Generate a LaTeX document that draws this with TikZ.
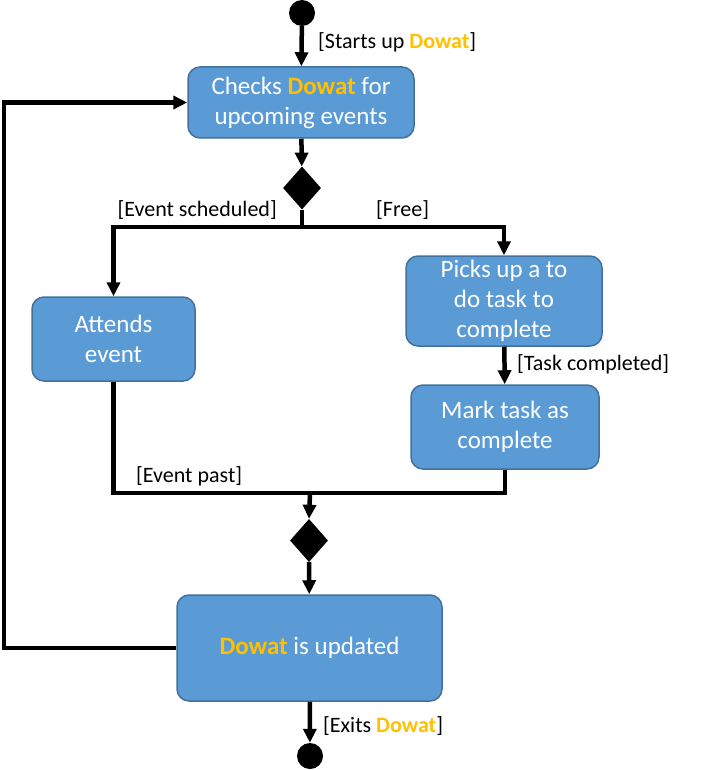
\documentclass[tikz,border=0pt]{standalone}
\usepackage{fontspec}
\setmainfont{Carlito}
\usetikzlibrary{shapes.geometric,arrows.meta}
\definecolor{boxfill}{HTML}{5B9BD5}
\definecolor{boxline}{HTML}{41719C}
\definecolor{dwy}{HTML}{FFC000}
\newcommand{\dw}{\textcolor{dwy}{\textbf{Dowat}}}
\tikzset{
  act/.style={draw=boxline, line width=1.5pt, fill=boxfill, rounded corners=12pt,
    text=white, align=center, font=\fontsize{25}{30}\selectfont, inner sep=0pt},
  dot/.style={circle, fill=black, minimum size=26pt, inner sep=0pt},
  dec/.style={diamond, fill=black, minimum width=38pt, minimum height=43pt, inner sep=0pt},
  ln/.style={line width=4.5pt, black},
  arr/.style={ln, -{Triangle[length=14pt,width=13pt]}},
  lab/.style={font=\fontsize{22}{26}\selectfont, inner sep=0pt}
}
\begin{document}
\begin{tikzpicture}[x=1pt,y=-1pt]
\useasboundingbox (0,0) rectangle (721,770);
\node[dot] (s) at (302,13) {};
\node[act, minimum width=226pt, minimum height=71pt] (a1) at (301,102.5) {Checks \dw{} for\\upcoming events};
\node[dec] (d1) at (302,188) {};
\node[act, minimum width=163pt, minimum height=84pt] (a2) at (113.5,339) {Attends\\event};
\node[act, minimum width=196pt, minimum height=90pt] (a3) at (504,301) {Picks up a to\\do task to\\complete};
\node[act, minimum width=188pt, minimum height=84pt] (a4) at (505,427) {Mark task as\\complete};
\node[dec] (d2) at (309,540.5) {};
\node[act, minimum width=265pt, minimum height=106pt] (a5) at (309.5,648) {\dw{} is updated};
\node[dot] (e) at (310,756) {};
\coordinate (j1) at (302,227);
\coordinate (j2) at (310,493);
\coordinate (l1) at (4,648);
\draw[arr] (s) -- (a1);
\draw[arr] (a1) -- (d1);
\draw[ln] (d1.south) -- (j1);
\draw[arr] (j1) -| (a2.north);
\draw[arr] (j1) -| (a3.north);
\draw[arr] (a3) -- (a4);
\draw[ln] (a2.south) |- (j2);
\draw[ln] (a4.south) |- (j2);
\draw[arr] (j2) -- (d2.north);
\draw[arr] (d2) -- (a5);
\draw[arr] (a5) -- (e);
\draw[arr] (a5.west) -- (l1) |- (a1.west);
\node[lab, anchor=west] (t1) at (318,42) {[Starts up \dw]};
\node[lab, anchor=east] (t2) at (277,210) {[Event scheduled]};
\node[lab, anchor=west] (t3) at (376,210) {[Free]};
\node[lab, anchor=west] (t4) at (517,364) {[Task completed]};
\node[lab, anchor=west] (t5) at (136,476) {[Event past]};
\node[lab, anchor=west] (t6) at (323,726) {[Exits \dw]};
\end{tikzpicture}
\end{document}
